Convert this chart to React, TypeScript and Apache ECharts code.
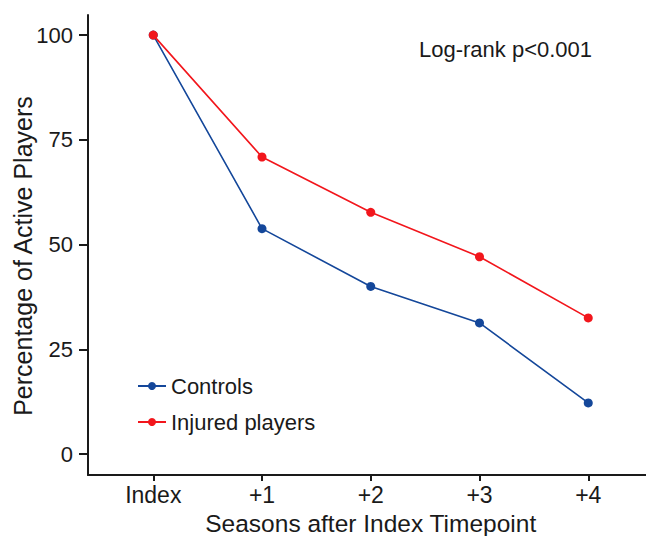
import React, { useEffect, useRef } from "react";
import * as echarts from "echarts";

const categories = ["Index", "+1", "+2", "+3", "+4"];
const controls = [100, 53.8, 40.0, 31.3, 12.2];
const injured = [100, 70.9, 57.7, 47.1, 32.5];
const yTicks = [0, 25, 50, 75, 100];
const seriesNames = ["Controls", "Injured players"];
const annotation = "Log-rank p<0.001";
const xTitle = "Seasons after Index Timepoint";
const yTitle = "Percentage of Active Players";

const FONT = "Liberation Sans, Arial, sans-serif";
const INK = "#1a1a1a";

export default function App() {
  const ref = useRef<HTMLDivElement>(null);
  useEffect(() => {
    if (!ref.current) return;
    const chart = echarts.init(ref.current, null, { renderer: "svg" });
    const xIdx = categories.map((_, i) => i);
    chart.setOption({
      animation: false,
      backgroundColor: "#ffffff",
      textStyle: { fontFamily: FONT },
      grid: {
        left: 88,
        top: 15,
        width: 565.5,
        height: 460,
        containLabel: false,
        outerBoundsMode: "none",
      },
      xAxis: {
        type: "value",
        min: -0.6,
        max: 4.6,
        name: xTitle,
        nameLocation: "middle",
        nameGap: 36,
        nameTextStyle: { fontSize: 24.5, color: INK, fontFamily: FONT },
        axisLine: { onZero: false, lineStyle: { color: INK, width: 2 } },
        axisTick: { show: true, length: 6, lineStyle: { color: INK, width: 2 }, customValues: xIdx },
        axisLabel: {
          customValues: xIdx,
          formatter: (v: number) => categories[Math.round(v)] ?? "",
          fontSize: 23,
          color: INK,
          margin: 8,
          fontFamily: FONT,
        },
        splitLine: { show: false },
      },
      yAxis: {
        type: "value",
        min: -5,
        max: 104.8,
        axisLine: { show: true, onZero: false, lineStyle: { color: INK, width: 2 } },
        axisTick: { show: true, length: 9, lineStyle: { color: INK, width: 2 }, customValues: yTicks },
        axisLabel: { customValues: yTicks, fontSize: 22, color: INK, margin: 15, fontFamily: FONT },
        splitLine: { show: false },
      },
      legend: {
        orient: "vertical",
        left: 132,
        top: 370,
        itemWidth: 28,
        itemHeight: 10,
        itemGap: 14,
        textStyle: { fontSize: 22, color: INK, fontFamily: FONT },
        data: seriesNames,
      },
      graphic: [
        {
          type: "text",
          left: 419,
          top: 38,
          style: { text: annotation, fontSize: 22, fill: INK, fontFamily: FONT },
        },
        {
          type: "text",
          x: 23,
          y: 256,
          rotation: Math.PI / 2,
          style: {
            text: yTitle,
            fontSize: 25,
            fill: INK,
            fontFamily: FONT,
            align: "center",
            verticalAlign: "middle",
          },
        },
      ],
      series: [
        {
          name: seriesNames[0],
          type: "line",
          data: controls.map((v, i) => [i, v]),
          color: "#14479a",
          lineStyle: { width: 1.6, color: "#14479a" },
          symbol: "circle",
          symbolSize: 9,
          itemStyle: { color: "#14479a" },
          z: 2,
        },
        {
          name: seriesNames[1],
          type: "line",
          data: injured.map((v, i) => [i, v]),
          color: "#f2161c",
          lineStyle: { width: 1.6, color: "#f2161c" },
          symbol: "circle",
          symbolSize: 9,
          itemStyle: { color: "#f2161c" },
          z: 3,
        },
      ],
    });
    return () => chart.dispose();
  }, []);
  return (
    <div
      ref={ref}
      style={{ position: "absolute", left: 0, top: 0, width: 646, height: 536 }}
    />
  );
}
